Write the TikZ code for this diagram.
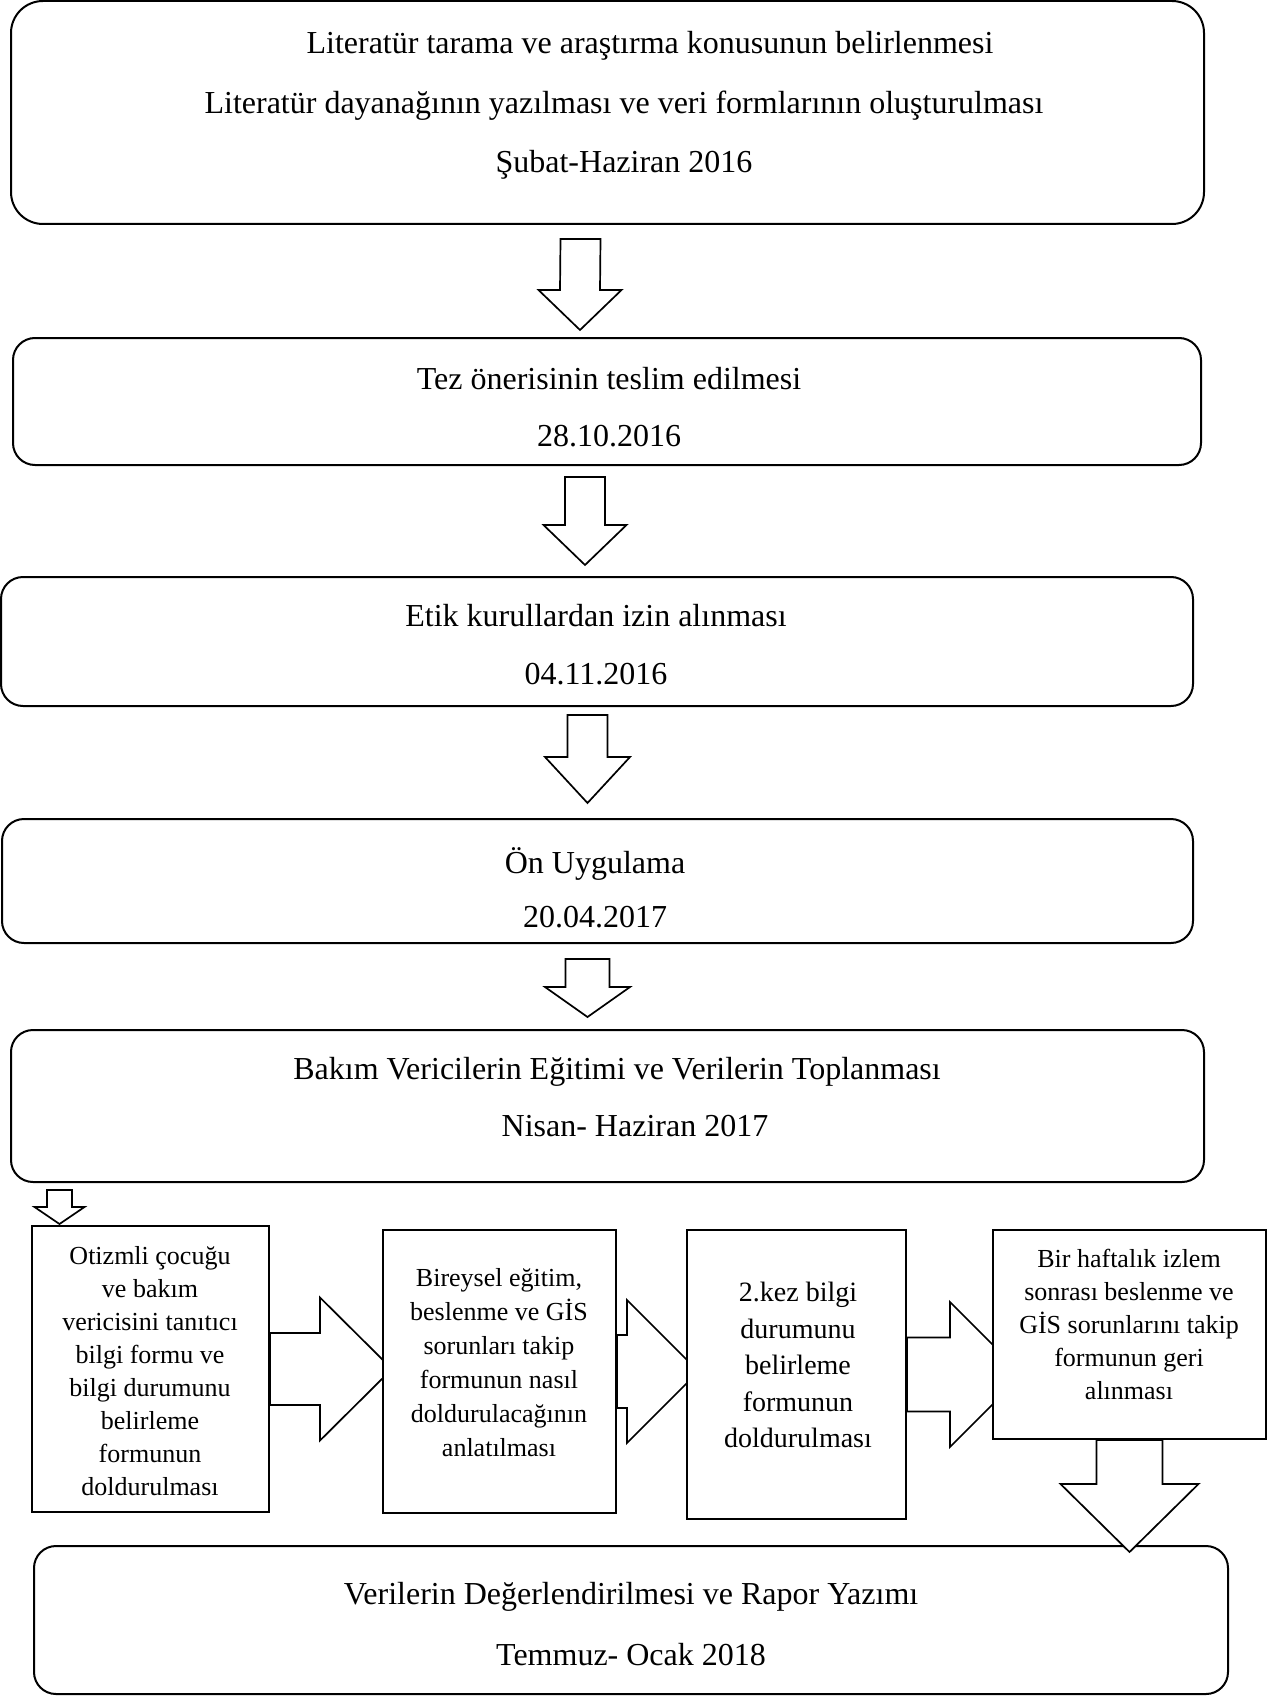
\documentclass[tikz,border=0pt]{standalone}
\usepackage{fontspec}
\setmainfont{Liberation Serif}
\usetikzlibrary{calc,backgrounds}
\newcommand{\boxfont}[1]{\fontsize{16}{#1}\selectfont}
\newcommand{\smallfont}[2]{\fontsize{#1}{#2}\selectfont}

\begin{document}
\begin{tikzpicture}[x=0.5pt,y=-0.5pt,
  bigbox/.style={draw, line width=1pt, rounded corners=11pt, fill=white, inner sep=0pt},
  stepbox/.style={draw, line width=1pt, fill=white, inner sep=0pt},
  boxtext/.style={align=center, inner sep=0pt},
  % block arrow pointing down: shaft half width, head half width, head length
  blockdown/.style n args={3}{draw, line width=0.85pt, fill=white, line join=miter,
    to path={($(\tikztostart)+(-#1,0)$) -- ($(\tikztotarget)+(-#1,-#3)$) -- ($(\tikztotarget)+(-#2,-#3)$)
      -- (\tikztotarget) -- ($(\tikztotarget)+(#2,-#3)$) -- ($(\tikztotarget)+(#1,-#3)$) -- ($(\tikztostart)+(#1,0)$) -- cycle}},
  % block arrow pointing right
  blockright/.style n args={3}{draw, line width=0.85pt, fill=white, line join=miter,
    to path={($(\tikztostart)+(0,-#1)$) -- ($(\tikztotarget)+(-#3,-#1)$) -- ($(\tikztotarget)+(-#3,-#2)$)
      -- (\tikztotarget) -- ($(\tikztotarget)+(-#3,#2)$) -- ($(\tikztotarget)+(-#3,#1)$) -- ($(\tikztostart)+(0,#1)$) -- cycle}}]
\useasboundingbox (0,0) rectangle (1283,1696);

%Rounded Rect: literature
\node [bigbox, rounded corners=16pt, minimum width=596.5pt, minimum height=111.5pt] (lit) at (607.5,112.5) {};
%Rounded Rect: thesis proposal
\node [bigbox, minimum width=594pt, minimum height=63.5pt] (tez) at (607,401.5) {};
%Rounded Rect: ethics
\node [bigbox, minimum width=596pt, minimum height=64.5pt] (etik) at (597,641.5) {};
%Rounded Rect: pilot
\node [bigbox, minimum width=595.5pt, minimum height=62pt] (onuyg) at (597.5,881) {};
%Rounded Rect: training and data
\node [bigbox, minimum width=596.5pt, minimum height=76pt] (bakim) at (607.5,1106) {};
%Rounded Rect: report
\node [bigbox, minimum width=597pt, minimum height=74pt] (rapor) at (631,1620) {};

%Shape: steps
\node [stepbox, minimum width=118.5pt, minimum height=143pt] (sA) at (150.5,1369) {};
\node [stepbox, minimum width=116.5pt, minimum height=141.5pt] (sB) at (499.5,1371.5) {};
\node [stepbox, minimum width=109.5pt, minimum height=144.5pt] (sC) at (796.5,1374.5) {};
\node [stepbox, minimum width=136.5pt, minimum height=104.5pt] (sD) at (1129.5,1334.5) {};

%Down arrows
\draw [blockdown={20}{41.5}{40}] ($(lit.south)+(-27,14)$) to ($(tez.north)+(-27,-7)$);
\draw [blockdown={20}{41.5}{40}] ($(tez.south)+(-22,11)$) to ($(etik.north)+(-12,-11)$);
\draw [blockdown={20}{42.5}{46}] ($(etik.south)+(-9.5,8)$) to ($(onuyg.north)+(-10,-15)$);
\draw [blockdown={22}{42.5}{30}] ($(onuyg.south)+(-10,15)$) to ($(bakim.north)+(-20,-12)$);
\draw [blockdown={12.5}{25}{17}] ($(sA.north)+(-91,-35)$) to ($(sA.north)+(-91,-1)$);
\draw [blockdown={33}{69}{68}] (sD.south) to ($(sD.south |- rapor.north)+(0,7)$);

%Right arrows (behind the steps)
\begin{pgfonlayer}{background}
\draw [blockright={36}{71.5}{72}] (sA.east) to ($(sB.west)+(10,-2.5)$);
\draw [blockright={36.5}{71.5}{71.5}] (sB.east) to ($(sC.west)+(12.5,-3)$);
\draw [blockright={37}{72.5}{72.5}] (sC.east) to ($(sD.west)+(30.5,40)$);
\end{pgfonlayer}

% Text Node
\node [boxtext, font=\boxfont{29.75}] (littext) at (624,105.5) {\hspace*{26pt}Literatür tarama ve araştırma konusunun belirlenmesi\\Literatür dayanağının yazılması ve veri formlarının oluşturulması\\Şubat-Haziran 2016};
% Text Node
\node [boxtext, font=\boxfont{28.5}] (teztext) at (609,407.5) {Tez önerisinin teslim edilmesi\\28.10.2016};
% Text Node
\node [boxtext, font=\boxfont{29}] (etiktext) at (596,645) {Etik kurullardan izin alınması\\04.11.2016};
% Text Node
\node [boxtext, font=\boxfont{27}] (onuygtext) at (595,888) {Ön Uygulama\\20.04.2017};
% Text Node
\node [boxtext, font=\boxfont{28.5}] (bakimtext) at (617,1097.5) {Bakım Vericilerin Eğitimi ve Verilerin Toplanması\\\hspace*{18pt}Nisan- Haziran 2017};
% Text Node
\node [boxtext, font=\boxfont{30.5}] (raportext) at (631,1624.5) {Verilerin Değerlendirilmesi ve Rapor Yazımı\\Temmuz- Ocak 2018};

% Text Node
\node [boxtext, font=\smallfont{13}{16.5}] (sAtext) at (150,1371) {Otizmli çocuğu\\ve bakım\\vericisini tanıtıcı\\bilgi formu ve\\bilgi durumunu\\belirleme\\formunun\\doldurulması};
% Text Node
\node [boxtext, font=\smallfont{13}{17}] (sBtext) at (499,1362.5) {Bireysel eğitim,\\beslenme ve GİS\\sorunları takip\\formunun nasıl\\doldurulacağının\\anlatılması};
% Text Node
\node [boxtext, font=\smallfont{14}{18.25}] (sCtext) at (798,1365) {2.kez bilgi\\durumunu\\belirleme\\formunun\\doldurulması};
% Text Node
\node [boxtext, font=\smallfont{13}{16.5}] (sDtext) at (1129,1324.5) {Bir haftalık izlem\\sonrası beslenme ve\\GİS sorunlarını takip\\formunun geri\\alınması};

\end{tikzpicture}
\end{document}
